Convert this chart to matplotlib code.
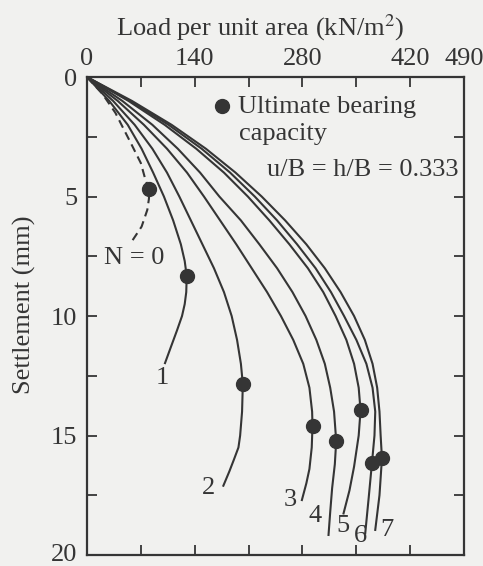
import matplotlib.pyplot as plt
from matplotlib.transforms import ScaledTranslation

# Last-setning kurver for N = 0..7 lag (u/B = h/B = 0.333), lest av figuren
load_n0 = [0, 20, 37, 56, 70, 76, 81, 80.5, 78.4, 71, 58]
settle_n0 = [0, 0.7, 1.5, 2.7, 3.6, 4.3, 4.7, 5.1, 5.56, 6.26, 6.89]

load_n1 = [0, 29, 53, 71, 86, 100, 112, 122, 127, 129.6, 129, 127, 123.5, 117, 109, 101.4]
settle_n1 = [0, 1, 2, 3, 4, 5, 6, 7, 7.7, 8.33, 9, 9.5, 10, 10.6, 11.3, 11.97]

load_n2 = [0, 34, 62, 85, 104, 120, 135, 150, 165, 178, 188, 195, 200, 202.5,
           201.5, 199, 196.8, 191, 185, 177.2]
settle_n2 = [0, 1, 2, 3, 4, 5, 6, 7, 8, 9, 10, 11, 12, 12.85,
             14, 15, 15.5, 16, 16.5, 17.1]

load_n3 = [0, 40, 74, 104, 130, 152, 173, 194, 214, 234, 252, 268, 281, 289, 292.5,
           293, 292, 289, 285, 279.2]
settle_n3 = [0, 1, 2, 3, 4, 5, 6, 7, 8, 9, 10, 11, 12, 13, 14,
             14.6, 15.5, 16.4, 17, 17.7]

load_n4 = [0, 46, 85, 118, 147, 172, 200, 224, 247, 267, 284, 298, 309, 316, 321,
           323.8, 322, 318.5, 316, 313.8]
settle_n4 = [0, 1, 2, 3, 4, 5, 6, 7, 8, 9, 10, 11, 12, 13, 14,
             15.23, 16.2, 17.2, 18.2, 19.16]

load_n5 = [0, 54, 101, 142, 178, 209, 237, 263, 287, 307, 323, 337, 347, 353,
           355.4, 353, 347, 341, 333.3]
settle_n5 = [0, 1, 2, 3, 4, 5, 6, 7, 8, 9, 10, 11, 12, 13,
             13.95, 15, 16.3, 17.3, 18.26]

load_n6 = [0, 56, 106, 149, 186, 218, 247, 273, 297, 317, 334, 350, 363, 371, 374.5,
           373.5, 370.2, 366, 361.5]
settle_n6 = [0, 1, 2, 3, 4, 5, 6, 7, 8, 9, 10, 11, 12, 13, 14,
             15, 16.16, 17.6, 19.09]

load_n7 = [0, 58.5, 110, 154.5, 193, 227, 257.5, 285, 309, 329.5, 347, 361, 371, 377, 380,
           381.5, 383.2, 380, 374.5]
settle_n7 = [0, 1, 2, 3, 4, 5, 6, 7, 8, 9, 10, 11, 12, 13, 14,
             15, 15.95, 17.5, 18.95]

# Ultimate bearing capacity (punkter)
ult_load = [81.0, 129.6, 202.5, 293.0, 323.8, 355.4, 370.2, 383.2]
ult_settle = [4.70, 8.33, 12.85, 14.60, 15.23, 13.95, 16.16, 15.95]

# Etiketter for kurvene
curve_labels = ['N = 0', '1', '2', '3', '4', '5', '6', '7']
label_load = [61, 97.5, 158, 264, 296.5, 332, 355, 390]
label_settle = [7.57, 12.6, 17.2, 17.7, 18.35, 18.8, 19.2, 18.95]

x_ticks = [0, 70, 140, 210, 280, 350, 420, 490]
x_ticklabels = ['0', '', '140', '', '280', '', '420', '490']
y_ticks = [0, 2.5, 5, 7.5, 10, 12.5, 15, 17.5, 20]
y_ticklabels = ['0', '', '5', '', '10', '', '15', '', '20']

plt.rcParams['font.family'] = ['Liberation Serif', 'DejaVu Serif']
plt.rcParams['mathtext.fontset'] = 'stix'

ink = '#353535'
bg = '#f1f1ef'
fs = 19

fig = plt.figure(figsize=(4.83, 5.66), dpi=100, facecolor=bg)
ax = fig.add_axes([0.180, 0.0194, 0.781, 0.8445], facecolor=bg)

solid = [(load_n1, settle_n1), (load_n2, settle_n2), (load_n3, settle_n3), (load_n4, settle_n4),
         (load_n5, settle_n5), (load_n6, settle_n6), (load_n7, settle_n7)]
ax.plot(load_n0, settle_n0, color=ink, lw=1.5, dashes=(4, 2.5))
for xs, ys in solid:
    ax.plot(xs, ys, color=ink, lw=1.5)

ax.plot(ult_load, ult_settle, 'o', color=ink, ms=10, zorder=5)

for txt, lx, ly in zip(curve_labels, label_load, label_settle):
    ax.text(lx, ly, txt, fontsize=fs, color=ink, ha='center', va='center')

# Forklaring
ax.plot([175.5], [1.21], 'o', color=ink, ms=10)
ax.text(196, 1.26, 'Ultimate bearing', fontsize=fs, color=ink, va='center')
ax.text(198, 2.38, 'capacity', fontsize=fs, color=ink, va='center')
ax.text(482, 3.9, 'u/B = h/B = 0.333', fontsize=fs, color=ink, ha='right', va='center')

ax.set_xlim(0, 490)
ax.set_ylim(20, 0)
ax.set_xticks(x_ticks)
ax.set_xticklabels(x_ticklabels)
ax.set_yticks(y_ticks)
ax.set_yticklabels(y_ticklabels)
ax.xaxis.tick_top()
ax.xaxis.set_label_position('top')
ax.tick_params(axis='x', which='both', direction='in', top=True, bottom=True, length=7, width=1.3,
               labelsize=fs, labelcolor=ink, color=ink, pad=5)
ax.tick_params(axis='y', which='both', direction='in', left=True, right=True, length=7, width=1.3,
               labelsize=fs, labelcolor=ink, color=ink, pad=7)
for s in ax.spines.values():
    s.set_linewidth(1.6)
    s.set_color(ink)

# "20" ligger helt nede ved kanten, flytt den litt opp saa den ikke kuttes
bottom_label = ax.get_yticklabels()[-1]
bottom_label.set_transform(bottom_label.get_transform() + ScaledTranslation(0, 3 / 100, fig.dpi_scale_trans))

ax.set_xlabel('Load per unit area (kN/m$^2$)', fontsize=fs, color=ink)
ax.xaxis.set_label_coords(0.459, 1.086)
ax.set_ylabel('Settlement (mm)', fontsize=fs, color=ink)
ax.yaxis.set_label_coords(-0.135, 0.523)

fig.savefig('out.png', dpi=100, facecolor=bg)
